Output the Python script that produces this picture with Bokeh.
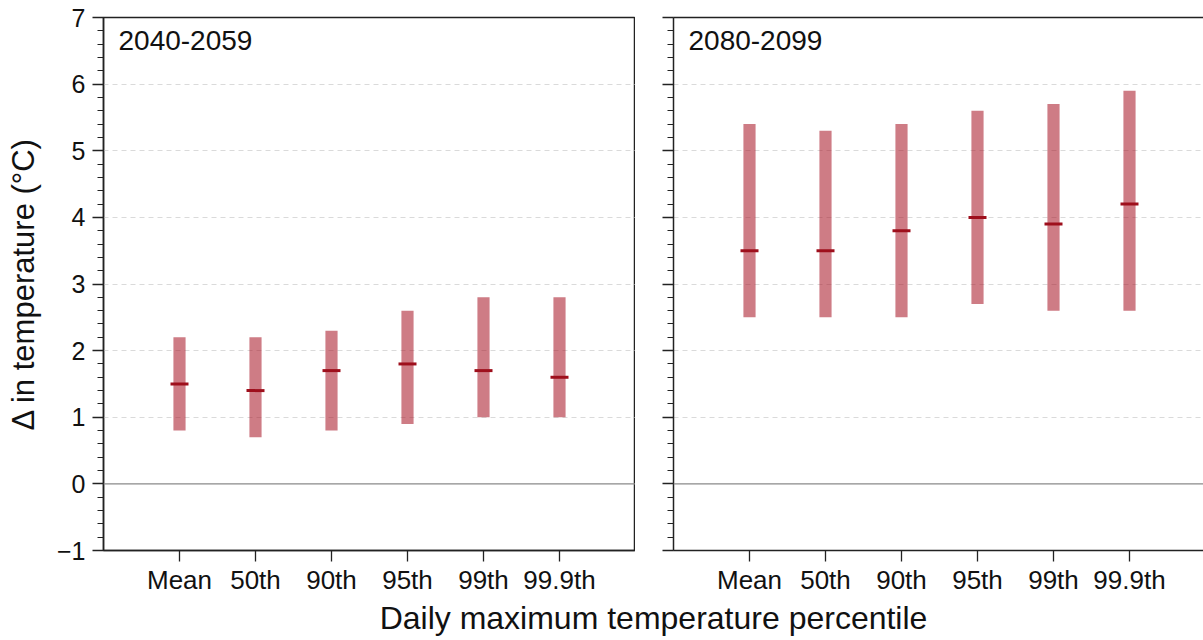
from bokeh.plotting import figure
from bokeh.layouts import row, column
from bokeh.models import FixedTicker, LinearAxis, Span, Label, Range1d
from bokeh.embed import file_html
from bokeh.resources import INLINE

# Percentile categories on the x axis
categories = ["Mean", "50th", "90th", "95th", "99th", "99.9th"]

# 2040-2059: ensemble range (low/high) and median change in °C
mid_low = [0.8, 0.7, 0.8, 0.9, 1.0, 1.0]
mid_high = [2.2, 2.2, 2.3, 2.6, 2.8, 2.8]
mid_median = [1.5, 1.4, 1.7, 1.8, 1.7, 1.6]

# 2080-2099: ensemble range (low/high) and median change in °C
late_low = [2.5, 2.5, 2.5, 2.7, 2.6, 2.6]
late_high = [5.4, 5.3, 5.4, 5.6, 5.7, 5.9]
late_median = [3.5, 3.5, 3.8, 4.0, 3.9, 4.2]

y_major = [-1, 0, 1, 2, 3, 4, 5, 6, 7]
y_minor = [round(-1 + 0.2 * i, 1) for i in range(41)]
grid_levels = [1, 2, 3, 4, 5, 6]

FONT = "Liberation Sans"
AXIS_COLOR = "#222222"
BAR_COLOR = "#aa1e2d"
MEDIAN_COLOR = "#9e0f1c"

xs = list(range(1, len(categories) + 1))
x_labels = {x: c for x, c in zip(xs, categories)}

FRAME_H = 533
ROW_H = 600


def style_axis(ax):
    ax.axis_line_color = AXIS_COLOR
    ax.axis_line_width = 1.5
    ax.major_tick_line_color = AXIS_COLOR
    ax.minor_tick_line_color = AXIS_COLOR
    ax.major_tick_line_width = 1.3
    ax.minor_tick_line_width = 1.2
    ax.major_tick_in = 0
    ax.minor_tick_in = 0
    ax.major_label_text_font = FONT
    ax.major_label_text_color = "#111111"
    ax.axis_label_text_font = FONT
    ax.axis_label_text_font_style = "normal"
    ax.axis_label_text_color = "#111111"


def make_panel(title, low, high, median, width, left_border, x_end, show_labels, outline):
    p = figure(width=width, height=ROW_H, x_range=Range1d(0, x_end), y_range=Range1d(-1, 7),
               output_backend="svg", toolbar_location=None,
               min_border_left=left_border, min_border_right=0,
               min_border_top=17, min_border_bottom=ROW_H - 17 - FRAME_H,
               x_axis_location=None, y_axis_location=None)
    p.background_fill_color = "white"
    p.border_fill_color = "white"
    if outline:
        p.outline_line_color = AXIS_COLOR
        p.outline_line_width = 1.5
    else:
        p.outline_line_color = None

    # y axis with minor ticks every 0.2
    yax = LinearAxis(ticker=FixedTicker(ticks=y_major, minor_ticks=y_minor))
    style_axis(yax)
    yax.major_tick_out = 11
    yax.minor_tick_out = 6
    yax.major_label_standoff = 7
    yax.major_label_text_font_size = "25px"
    if show_labels:
        yax.major_label_overrides = {-1: "\u22121"}
        yax.axis_label = "\u0394 in temperature (\u00b0C)"
        yax.axis_label_text_font_size = "31px"
        yax.axis_label_standoff = 13
    else:
        yax.major_label_overrides = {t: "" for t in y_major}
    p.add_layout(yax, "left")

    # x axis with percentile names
    xax = LinearAxis(ticker=FixedTicker(ticks=xs, minor_ticks=[]))
    style_axis(xax)
    xax.major_tick_out = 11
    xax.minor_tick_out = 0
    xax.major_label_standoff = 3
    xax.major_label_text_font_size = "26px"
    xax.major_label_overrides = x_labels
    p.add_layout(xax, "below")

    if not outline:
        top = LinearAxis(ticker=FixedTicker(ticks=[], minor_ticks=[]))
        top.axis_line_color = AXIS_COLOR
        top.axis_line_width = 1.5
        top.major_tick_line_color = None
        top.minor_tick_line_color = None
        p.add_layout(top, "above")

    # dashed horizontal grid
    p.xgrid.visible = False
    p.ygrid.ticker = FixedTicker(ticks=grid_levels)
    p.ygrid.grid_line_color = "#dadada"
    p.ygrid.grid_line_dash = "5 4"
    p.ygrid.grid_line_width = 1

    p.add_layout(Span(location=0, dimension="width", line_color="#8a8a8a", line_width=1.2))

    # range bars and medians
    p.vbar(x=xs, bottom=low, top=high, width=0.16, fill_color=BAR_COLOR, fill_alpha=0.58,
           line_color=None)
    p.scatter(x=xs, y=median, marker="dash", size=18, line_color=MEDIAN_COLOR, line_width=3)

    # period title in the upper-left corner of the frame
    p.add_layout(Label(x=15, y=FRAME_H - 13, x_units="screen", y_units="screen", text=title,
                       text_font=FONT, text_font_size="28px", text_color="#111111",
                       text_baseline="top"))
    return p


left = make_panel("2040-2059", mid_low, mid_high, mid_median,
                  width=635, left_border=103, x_end=7.0, show_labels=True, outline=True)
right = make_panel("2080-2099", late_low, late_high, late_median,
                   width=568, left_border=38, x_end=530 / 76, show_labels=False, outline=False)

# shared x-axis title under both panels
CAP_H = 640 - ROW_H
caption = figure(width=1203, height=CAP_H, x_range=Range1d(0, 1), y_range=Range1d(0, 1),
                 output_backend="svg", toolbar_location=None,
                 min_border=0, x_axis_location=None, y_axis_location=None)
caption.outline_line_color = None
caption.grid.visible = False
caption.add_layout(Label(x=653, y=CAP_H - 17, x_units="screen", y_units="screen",
                         text="Daily maximum temperature percentile",
                         text_font=FONT, text_font_size="32px", text_color="#111111",
                         text_align="center", text_baseline="middle"))

layout = column(row(left, right), caption)
open("out.html", "w").write(file_html(layout, INLINE))
